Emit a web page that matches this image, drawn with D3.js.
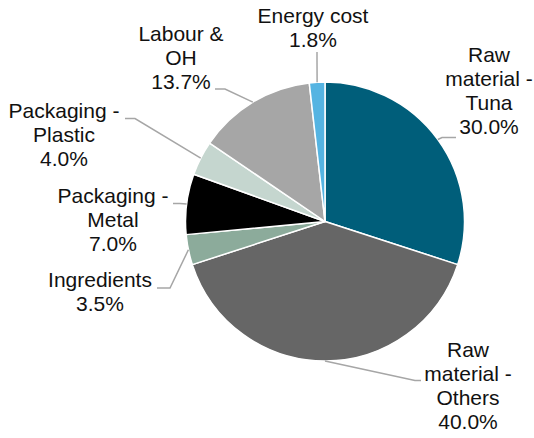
<!DOCTYPE html>
<html><head><meta charset="utf-8">
<script src="https://cdn.jsdelivr.net/npm/d3@7"></script>
<style>body{margin:0;background:#fff}svg{display:block}</style>
</head><body>
<svg id="c" width="534" height="438"></svg>
<script>
const categories = ["Raw material - Tuna","Raw material - Others","Ingredients","Packaging - Metal","Packaging - Plastic","Labour & OH","Energy cost"];
const values = [30.0, 40.0, 3.5, 7.0, 4.0, 13.7, 1.8];
const labelLines = [["Raw","material -","Tuna"],["Raw","material -","Others"],["Ingredients"],["Packaging -","Metal"],["Packaging -","Plastic"],["Labour &","OH"],["Energy cost"]];
const colors = ["#005e7a","#666666","#8cab9b","#000000","#c5d6cf","#a6a6a6","#55b4e2"];

// label layout: text centre x, first baseline y, leader elbow & end points
const layout = [
  {x:489, y:62,  elbow:[442,137.5], end:[456,137.5]},
  {x:468, y:357, elbow:[415,380.5], end:[421,380.5]},
  {x:100, y:287, elbow:[170,288],   end:[157,288]},
  {x:113, y:203, elbow:[180,203.5], end:[173,203.5]},
  {x:64,  y:118, elbow:[135,118.5], end:[125,118.5]},
  {x:181, y:41,  elbow:[225,89],    end:[215,89]},
  {x:313, y:23,  elbow:[317,60],    end:[317,52]}
];

const cx = 325, cy = 221.5, R = 139.5;
const svg = d3.select("#c");
const g = svg.append("g").attr("transform", `translate(${cx},${cy})`);
const data = categories.map((c,i)=>({c, v:values[i], i}));
const pie = d3.pie().value(d=>d.v).sort(null);
const arcs = pie(data);
const arc = d3.arc().innerRadius(0).outerRadius(R);

g.selectAll("path.s").data(arcs).join("path").attr("class","s")
  .attr("d", arc).attr("fill", d=>colors[d.data.i])
  .attr("stroke","#fff").attr("stroke-width",1.5).attr("stroke-linejoin","round");

// leader lines
arcs.forEach(a=>{
  const L = layout[a.data.i];
  const mid = (a.startAngle + a.endAngle)/2;
  const p = [cx + R*Math.sin(mid), cy - R*Math.cos(mid)];
  svg.append("polyline")
    .attr("points", [p, L.elbow, L.end].map(q=>q.join(",")).join(" "))
    .attr("fill","none").attr("stroke","#a6a6a6").attr("stroke-width",1.5);
});

// labels
const fmt = d3.format(".1f");
arcs.forEach(a=>{
  const i = a.data.i, L = layout[i];
  const lines = labelLines[i].concat([fmt(a.data.v) + "%"]);
  const t = svg.append("text").attr("x", L.x).attr("y", L.y)
    .attr("text-anchor","middle")
    .attr("font-family","'Liberation Sans', Arial, sans-serif")
    .attr("font-size","21px").attr("fill","#111");
  lines.forEach((s,k)=>{
    t.append("tspan").attr("x", L.x).attr("y", L.y + k*24).text(s);
  });
});
</script>
</body></html>
